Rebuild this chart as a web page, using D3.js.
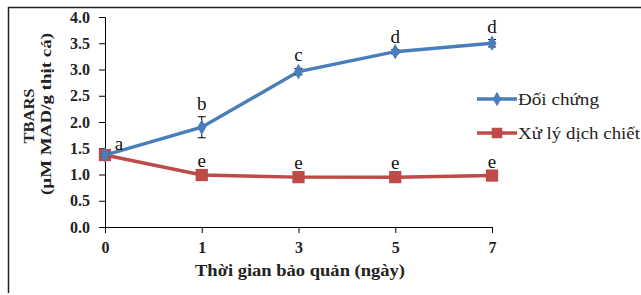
<!DOCTYPE html>
<html>
<head>
<meta charset="utf-8">
<script src="https://cdn.jsdelivr.net/npm/d3@7"></script>
<style>
  body { margin: 0; background: #fff; }
  svg { display: block; font-family: "Liberation Serif", "Times New Roman", serif; }
</style>
</head>
<body>
<div id="chart"></div>
<script>
// data
var days = ["0", "1", "3", "5", "7"]
var doiChung = [1.37, 1.90, 2.96, 3.34, 3.50]
var doiChungErr = [0.03, 0.20, 0.06, 0.04, 0.07]
var doiChungLetters = ["a", "b", "c", "d", "d"]
var xuLy = [1.37, 0.99, 0.95, 0.95, 0.98]
var xuLyErr = [0.03, 0.04, 0.03, 0.03, 0.03]
var xuLyLetters = ["", "e", "e", "e", "e"]
var yTicks = [0, 0.5, 1, 1.5, 2, 2.5, 3, 3.5, 4]
var seriesNames = ["Đối chứng", "Xử lý dịch chiết"]

var width = 641, height = 295
var blue = "#4a7ebb", red = "#be4b48"

var svg = d3.select("#chart").append("svg")
    .attr("width", width)
    .attr("height", height)

// frame (only top and left edges show)
svg.append("path")
    .attr("d", "M8.5,293 L8.5,7.5 L641,7.5")
    .attr("fill", "none")
    .attr("stroke", "#222")
    .attr("stroke-width", 1.5)

var x = d3.scalePoint().domain(days).range([105, 492])
var y = d3.scaleLinear().domain([0, 4]).range([227, 17])

var yAxis = svg.append("g")
    .attr("transform", "translate(105,0)")
    .call(d3.axisLeft(y).tickValues(yTicks).tickFormat(d3.format(".1f")).tickSize(6).tickPadding(9))
yAxis.select(".domain").attr("d", "M-6,17.5H0.5V227.5").attr("stroke", "#000")

var xAxis = svg.append("g")
    .attr("transform", "translate(0,227)")
    .call(d3.axisBottom(x).tickSize(6).tickPadding(9))
xAxis.select(".domain").attr("d", "M105,0.5H492.5").attr("stroke", "#000")

svg.selectAll(".tick text")
    .attr("font-family", "Liberation Serif, serif")
    .attr("font-size", 16)
    .attr("font-weight", "bold")
    .attr("fill", "#222")
svg.selectAll(".tick line").attr("stroke", "#000")

// axis titles (the source is a bit stretched, so lengths are forced)
svg.append("text")
    .attr("transform", "translate(34,116) rotate(-90)")
    .attr("text-anchor", "middle")
    .attr("font-size", 15)
    .attr("font-weight", "bold")
    .attr("fill", "#222")
    .attr("textLength", 55)
    .attr("lengthAdjust", "spacingAndGlyphs")
    .text("TBARS")
svg.append("text")
    .attr("transform", "translate(51,114) rotate(-90)")
    .attr("text-anchor", "middle")
    .attr("font-size", 15)
    .attr("font-weight", "bold")
    .attr("fill", "#222")
    .attr("textLength", 162)
    .attr("lengthAdjust", "spacingAndGlyphs")
    .text("(µM MAD/g  thịt cá)")
svg.append("text")
    .attr("x", 300)
    .attr("y", 276)
    .attr("text-anchor", "middle")
    .attr("font-size", 16)
    .attr("font-weight", "bold")
    .attr("fill", "#222")
    .attr("textLength", 210)
    .attr("lengthAdjust", "spacingAndGlyphs")
    .text("Thời gian bảo quản  (ngày)")

function drawSeries(vals, errs, color, shape, size)
{
    var line = d3.line()
        .x(function(d, i){ return x(days[i]) })
        .y(function(d){ return y(d) })
    svg.append("path")
        .datum(vals)
        .attr("fill", "none")
        .attr("stroke", color)
        .attr("stroke-width", 3.5)
        .attr("d", line)

    // error bars
    var eb = svg.append("g").attr("stroke", "#000").attr("stroke-width", 1)
    vals.forEach(function(v, i){
        var cx = x(days[i])
        var y1 = y(v + errs[i]), y2 = y(v - errs[i])
        eb.append("line").attr("x1", cx).attr("x2", cx).attr("y1", y1).attr("y2", y2)
        eb.append("line").attr("x1", cx - 4).attr("x2", cx + 4).attr("y1", y1).attr("y2", y1)
        eb.append("line").attr("x1", cx - 4).attr("x2", cx + 4).attr("y1", y2).attr("y2", y2)
    })

    svg.append("g").selectAll("path")
        .data(vals)
        .enter().append("path")
        .attr("d", d3.symbol().type(shape).size(size))
        .attr("transform", function(d, i){ return "translate(" + x(days[i]) + "," + y(d) + ")" })
        .attr("fill", color)
}

drawSeries(xuLy, xuLyErr, red, d3.symbolSquare, 150)
drawSeries(doiChung, doiChungErr, blue, d3.symbolDiamond, 70)

// significance letters
svg.append("g").selectAll("text")
    .data(doiChung)
    .enter().append("text")
    .attr("x", function(d, i){ return i === 0 ? x(days[i]) + 14 : x(days[i]) })
    .attr("y", function(d, i){ return i === 0 ? y(d) - 5 : y(d + doiChungErr[i]) - 7 })
    .attr("text-anchor", "middle")
    .attr("font-size", 19)
    .attr("fill", "#111")
    .text(function(d, i){ return doiChungLetters[i] })

svg.append("g").selectAll("text")
    .data(xuLy)
    .enter().append("text")
    .attr("x", function(d, i){ return x(days[i]) })
    .attr("y", function(d){ return y(d) - 8 })
    .attr("text-anchor", "middle")
    .attr("font-size", 19)
    .attr("fill", "#111")
    .text(function(d, i){ return xuLyLetters[i] })

// legend
var legend = svg.append("g")
var legendColors = [blue, red]
var legendShapes = [d3.symbolDiamond, d3.symbolSquare]
var legendSizes = [60, 110]
var legendLengths = [81, 122]
seriesNames.forEach(function(name, i){
    var ly = 99 + i * 34
    legend.append("line")
        .attr("x1", 477).attr("x2", 517)
        .attr("y1", ly).attr("y2", ly)
        .attr("stroke", legendColors[i])
        .attr("stroke-width", 3.5)
    legend.append("path")
        .attr("d", d3.symbol().type(legendShapes[i]).size(legendSizes[i]))
        .attr("transform", "translate(497," + ly + ")")
        .attr("fill", legendColors[i])
    legend.append("text")
        .attr("x", 518)
        .attr("y", ly + 6)
        .attr("font-size", 17)
        .attr("fill", "#222")
        .attr("textLength", legendLengths[i])
        .attr("lengthAdjust", "spacingAndGlyphs")
        .text(name)
})
</script>
</body>
</html>
